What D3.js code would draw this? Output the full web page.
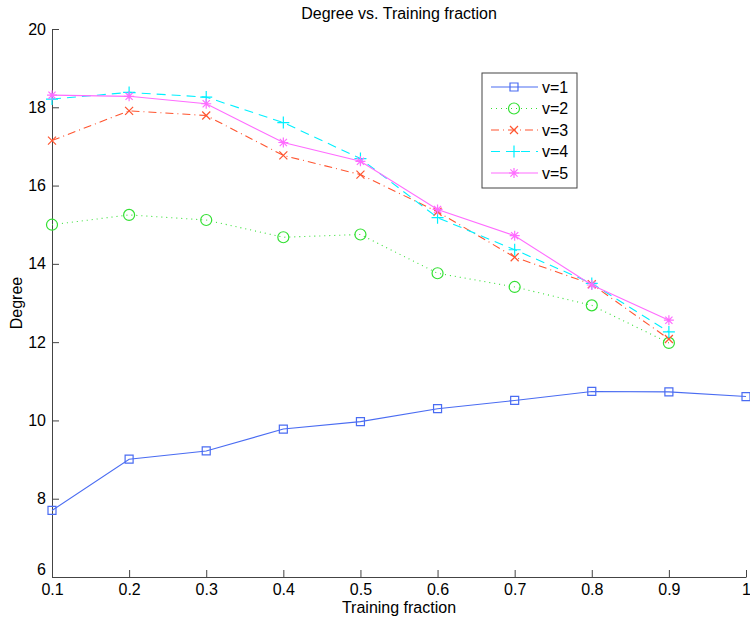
<!DOCTYPE html>
<html>
<head>
<meta charset="utf-8">
<script src="https://cdn.jsdelivr.net/npm/d3@7"></script>
<style>
  body { margin: 0; background: #fff; }
  text { font-family: "Liberation Sans", Arial, sans-serif; fill: #000; }
</style>
</head>
<body>
<div id="chart"></div>
<script>
var fractions = [0.1, 0.2, 0.3, 0.4, 0.5, 0.6, 0.7, 0.8, 0.9, 1.0];
var v1 = [7.70, 9.01, 9.22, 9.78, 9.97, 10.30, 10.51, 10.74, 10.73, 10.61];
var v2 = [15.00, 15.25, 15.12, 14.68, 14.75, 13.76, 13.41, 12.94, 11.98];
var v3 = [17.15, 17.91, 17.79, 16.77, 16.28, 15.33, 14.17, 13.48, 12.08];
var v4 = [18.21, 18.38, 18.26, 17.61, 16.69, 15.18, 14.36, 13.50, 12.26];
var v5 = [18.31, 18.28, 18.09, 17.10, 16.62, 15.39, 14.72, 13.46, 12.56];
var seriesNames = ["v=1", "v=2", "v=3", "v=4", "v=5"];
var xTicks = [0.1, 0.2, 0.3, 0.4, 0.5, 0.6, 0.7, 0.8, 0.9, 1];
var yTicks = [6, 8, 10, 12, 14, 16, 18, 20];

var styles = [
  { color: "#4a6cf2", dash: null, marker: "square" },
  { color: "#33e033", dash: "1,4", marker: "circle" },
  { color: "#ff5530", dash: "8,4,1,4", marker: "x" },
  { color: "#00f0ff", dash: "9,6", marker: "plus" },
  { color: "#ff6cff", dash: null, marker: "star" }
];

var series = [v1, v2, v3, v4, v5].map(function(vals, i) {
  return {
    name: seriesNames[i],
    style: styles[i],
    points: vals.map(function(v, j) { return { x: fractions[j], y: v }; })
  };
});

var width = 750, height = 621;
var margin = { left: 52, right: 4, top: 29, bottom: 44 };
var fontSize = 16;

var svg = d3.select("#chart").append("svg")
  .attr("width", width)
  .attr("height", height);

var x = d3.scaleLinear().domain([0.1, 1]).range([margin.left, width - margin.right]);
var y = d3.scaleLinear().domain([6, 20]).range([height - margin.bottom, margin.top]);

var axisColor = "#444";

// axes (MATLAB style, ticks pointing inward)
var xAxis = svg.append("g")
  .attr("transform", "translate(0," + y(6) + ")")
  .call(d3.axisBottom(x).tickValues(xTicks).tickSizeInner(-7).tickSizeOuter(0)
    .tickFormat(function(d) { return d === 1 ? "1" : d3.format(".1f")(d); }));
xAxis.select(".domain").attr("stroke", axisColor);
xAxis.selectAll(".tick line").attr("stroke", axisColor);
xAxis.selectAll(".tick text")
  .attr("y", 7)
  .attr("font-size", fontSize)
  .attr("font-family", "Liberation Sans, Arial, sans-serif")
  .attr("fill", "#000");

var yAxis = svg.append("g")
  .attr("transform", "translate(" + x(0.1) + ",0)")
  .call(d3.axisLeft(y).tickValues(yTicks).tickSizeInner(-7).tickSizeOuter(0));
yAxis.select(".domain").attr("stroke", axisColor);
yAxis.selectAll(".tick line").attr("stroke", axisColor);
yAxis.selectAll(".tick text")
  .attr("x", -6)
  .attr("font-size", fontSize)
  .attr("font-family", "Liberation Sans, Arial, sans-serif")
  .attr("fill", "#000");
// the 6 label sits a bit higher so it does not hit 0.1
yAxis.selectAll(".tick text").filter(function(d) { return d === 6; }).attr("dy", "-0.15em");

// titles
svg.append("text")
  .attr("x", (x(0.1) + x(1)) / 2)
  .attr("y", 19)
  .attr("text-anchor", "middle")
  .attr("font-size", fontSize)
  .text("Degree vs. Training fraction");

svg.append("text")
  .attr("x", (x(0.1) + x(1)) / 2)
  .attr("y", 613)
  .attr("text-anchor", "middle")
  .attr("font-size", fontSize)
  .text("Training fraction");

svg.append("text")
  .attr("transform", "translate(22," + (y(13)) + ") rotate(-90)")
  .attr("text-anchor", "middle")
  .attr("font-size", fontSize)
  .text("Degree");

function markerPath(type) {
  var s = 4;
  switch (type) {
    case "square": return "M" + -s + "," + -s + "h" + 2 * s + "v" + 2 * s + "h" + -2 * s + "Z";
    case "circle": return "M" + -5.5 + ",0a5.5,5.5 0 1,0 11,0a5.5,5.5 0 1,0 -11,0";
    case "x": return "M-4,-4L4,4M-4,4L4,-4";
    case "plus": return "M-6,0H6M0,-6V6";
    case "star": return "M-5,0H5M0,-5V5M-3.6,-3.6L3.6,3.6M-3.6,3.6L3.6,-3.6";
  }
}

var line = d3.line()
  .x(function(d) { return x(d.x); })
  .y(function(d) { return y(d.y); });

var g = svg.append("g").attr("class", "series");

series.forEach(function(s) {
  g.append("path")
    .datum(s.points)
    .attr("fill", "none")
    .attr("stroke", s.style.color)
    .attr("stroke-width", 1.1)
    .attr("stroke-dasharray", s.style.dash)
    .attr("d", line);

  g.selectAll(null)
    .data(s.points)
    .enter().append("path")
    .attr("transform", function(d) { return "translate(" + x(d.x) + "," + y(d.y) + ")"; })
    .attr("d", markerPath(s.style.marker))
    .attr("fill", "none")
    .attr("stroke", s.style.color)
    .attr("stroke-width", 1.2);
});

// legend
var legend = svg.append("g").attr("transform", "translate(482,73)");
legend.append("rect")
  .attr("width", 95)
  .attr("height", 115)
  .attr("fill", "#fff")
  .attr("stroke", "#444");

var entry = legend.selectAll(".entry")
  .data(series)
  .enter().append("g")
  .attr("class", "entry")
  .attr("transform", function(d, i) { return "translate(0," + (14 + i * 21.5) + ")"; });

entry.append("line")
  .attr("x1", 9).attr("x2", 56)
  .attr("stroke", function(d) { return d.style.color; })
  .attr("stroke-width", 1.1)
  .attr("stroke-dasharray", function(d) { return d.style.dash; });

entry.append("path")
  .attr("transform", "translate(32,0)")
  .attr("d", function(d) { return markerPath(d.style.marker); })
  .attr("fill", "none")
  .attr("stroke", function(d) { return d.style.color; })
  .attr("stroke-width", 1.2);

entry.append("text")
  .attr("x", 60)
  .attr("dy", "0.36em")
  .attr("font-size", fontSize)
  .text(function(d) { return d.name; });
</script>
</body>
</html>
